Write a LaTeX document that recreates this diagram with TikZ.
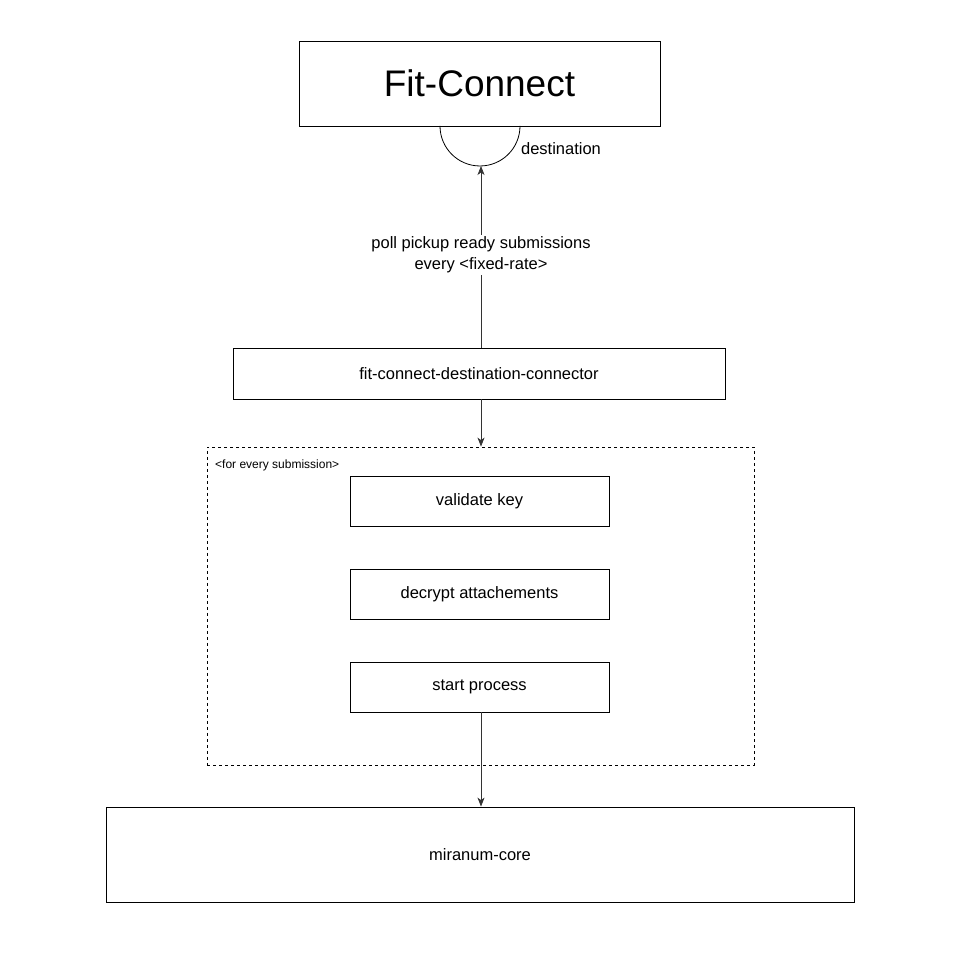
\documentclass[tikz,border=0pt]{standalone}
\usepackage{fontspec}
\setmainfont{Liberation Sans}
\usetikzlibrary{arrows.meta}
\begin{document}
\begin{tikzpicture}[x=1pt,y=1pt,
  box/.style={draw=black,line width=0.8pt,rectangle,inner sep=0pt,font=\fontsize{16.5}{20}\selectfont},
  conn/.style={draw=black!80,line width=0.8pt,-{Stealth[length=9pt,width=7pt,inset=2.5pt]}},
  lbl/.style={font=\fontsize{16.5}{20.5}\selectfont,align=center,inner sep=2pt}]
\useasboundingbox (0,0) rectangle (960,952);
\node[box,minimum width=361pt,minimum height=85pt,font=\fontsize{37}{44}\selectfont] (fc) at (479.5,868.5) {Fit-Connect};
\coordinate (destc) at (480,826);
\draw[line width=0.8pt] (440,826) arc[start angle=180,end angle=360,radius=40pt];
\coordinate (destb) at (481,786);
\node[lbl,anchor=center] (destlbl) at (561,803) {destination};
\node[box,minimum width=492pt,minimum height=51pt] (fcdc) at (479,578.5) {fit-connect-destination-connector};
\draw[conn] (fcdc.north -| destb) -- (destb) node[pos=0.51,lbl,fill=white] (poll) {poll pickup ready submissions\\every <fixed-rate>};
\node[draw=black,line width=0.8pt,dashed,dash pattern=on 3pt off 3pt,minimum width=547pt,minimum height=318pt,inner sep=0pt] (loop) at (480.5,346) {};
\node[anchor=west,font=\fontsize{12}{14}\selectfont,inner sep=0pt] (looplbl) at (215,487) {<for every submission>};
\draw[conn] (fcdc.south -| destb) -- (loop.north -| destb);
\node[box,minimum width=259pt,minimum height=50pt] (vk) at (479.5,451) {validate key};
\node[box,minimum width=259pt,minimum height=50pt] (da) at (479.5,358) {decrypt attachements};
\node[box,minimum width=259pt,minimum height=50pt] (sp) at (479.5,265) {start process};
\node[box,minimum width=748pt,minimum height=95pt] (mc) at (480,97.5) {miranum-core};
\draw[conn] (sp.south -| destb) -- (mc.north -| destb);
\end{tikzpicture}
\end{document}
